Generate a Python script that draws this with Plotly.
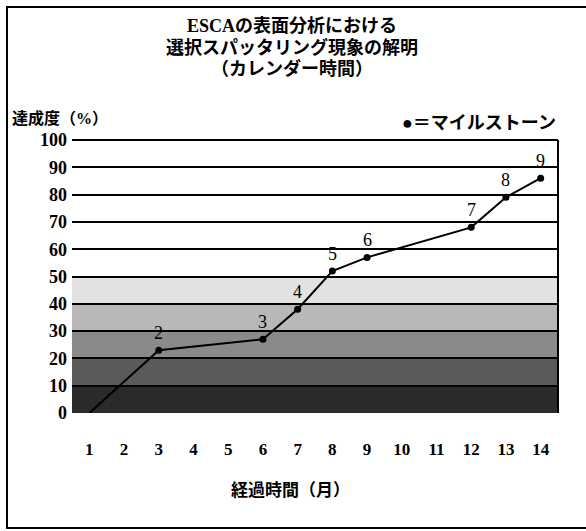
import plotly.graph_objects as go

# Progress of the ESCA selective-sputtering study, by elapsed month
months = [1, 3, 6, 7, 8, 9, 12, 13, 14]
progress = [0, 23, 27, 38, 52, 57, 68, 79, 86]
milestones = ["", "2", "3", "4", "5", "6", "7", "8", "9"]

x_ticks = list(range(1, 15))
y_ticks = list(range(0, 101, 10))

# Shaded bands behind the lower part of the chart (darker toward 0 %)
band_edges = [0, 10, 20, 30, 40, 50]
band_colors = ["#2a2a2a", "#5a5a5a", "#8a8a8a", "#b8b8b8", "#e2e2e2"]

W, H = 586, 531
L, R, T, B = 72, 558, 140, 413
SERIF = "Liberation Serif, Noto Sans CJK JP, serif"
CJK = "Liberation Serif, Noto Sans CJK JP, sans-serif"


def px(x):
    return (x - L) / (R - L)


def py(y):
    return (B - y) / (B - T)


fig = go.Figure()

fig.add_trace(go.Scatter(
    x=months, y=progress, mode="lines",
    line=dict(color="black", width=2), hoverinfo="skip", showlegend=False,
))
fig.add_trace(go.Scatter(
    x=months[1:], y=progress[1:], mode="markers",
    marker=dict(color="black", size=7), showlegend=False,
))

shapes = []
for lo, hi, col in zip(band_edges[:-1], band_edges[1:], band_colors):
    shapes.append(dict(type="rect", xref="paper", yref="y", x0=0, x1=1,
                       y0=lo, y1=hi, fillcolor=col, line=dict(width=0),
                       layer="below"))
# top edge and right edge of the plotting area
shapes.append(dict(type="line", xref="paper", yref="paper", x0=0, x1=1,
                   y0=1, y1=1, line=dict(color="black", width=2)))
shapes.append(dict(type="line", xref="paper", yref="paper", x0=1, x1=1,
                   y0=0, y1=1, line=dict(color="black", width=2)))
# outer frame around the whole figure
shapes.append(dict(type="rect", xref="paper", yref="paper",
                   x0=px(7), x1=px(610), y0=py(528), y1=py(7),
                   line=dict(color="black", width=2), layer="below"))

annotations = []
for m, p, lab in zip(months, progress, milestones):
    if lab:
        annotations.append(dict(x=m, y=p, text=lab, showarrow=False,
                                yshift=17, font=dict(family=SERIF, size=18,
                                                     color="black")))


def label(text, x, y, size, anchor="center"):
    annotations.append(dict(x=px(x), y=py(y), xref="paper", yref="paper",
                            xanchor=anchor, yanchor="middle",
                            text=f"<b>{text}</b>", showarrow=False,
                            font=dict(family=CJK, size=size, color="black")))


title_lines = ["ESCAの表面分析における", "選択スパッタリング現象の解明",
               "（カレンダー時間）"]
for txt, yy in zip(title_lines, [26, 47, 68]):
    label(txt, 292, yy, 18)

label("達成度（%）", 10, 118, 16, "left")
label("●＝マイルストーン", 400, 123, 18, "left")
label("経過時間（月）", 290, 491, 17)

fig.update_layout(
    width=W, height=H,
    margin=dict(l=L, r=W - R, t=T, b=H - B, pad=0),
    paper_bgcolor="white", plot_bgcolor="white",
    shapes=shapes, annotations=annotations,
    xaxis=dict(range=[0.5, 14.5], tickvals=x_ticks, showgrid=False,
               zeroline=False, showline=False, ticks="",
               ticklabelstandoff=24,
               tickfont=dict(family=SERIF, size=17, color="black",
                             weight="bold")),
    yaxis=dict(range=[0, 100], tickvals=y_ticks, showgrid=True,
               gridcolor="black", gridwidth=2, zeroline=False,
               showline=False, ticks="", ticklabelstandoff=4,
               tickfont=dict(family=SERIF, size=18, color="black",
                             weight="bold")),
)

fig.write_html("out.html")
